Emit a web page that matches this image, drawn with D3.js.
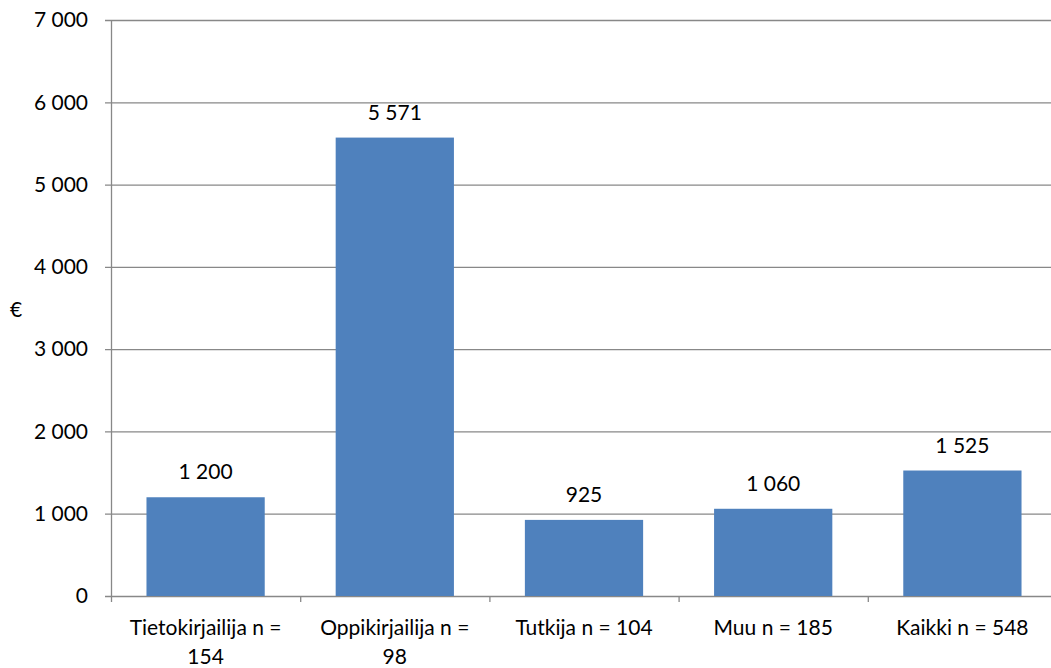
<!DOCTYPE html>
<html lang="fi">
<head>
  <meta charset="UTF-8">
  <title>Bar chart</title>
  <script src="https://d3js.org/d3.v7.min.js"></script>
  <style>
    body { margin: 0; background: #fff; }
    text { font-family: Lato, "Open Sans", sans-serif; fill: #000; }
  </style>
</head>
<body>
  <svg id="chart" width="1051" height="668"></svg>
  <script>
    const categories = ['Tietokirjailija n = 154', 'Oppikirjailija n = 98', 'Tutkija n = 104', 'Muu n = 185', 'Kaikki n = 548'];
    const values = [1200, 5571, 925, 1060, 1525];
    const yTicks = [0, 1000, 2000, 3000, 4000, 5000, 6000, 7000];

    const svg = d3.select('#chart');
    const margin = { left: 111, top: 20, right: -6, bottom: 72 };
    const width = 1051 - margin.left - margin.right;
    const height = 668 - margin.top - margin.bottom;

    const fmt = v => d3.format(',')(v).replace(/,/g, ' ');

    const x = d3.scaleBand().domain(categories).range([0, width]).paddingInner(0.375).paddingOuter(0.1875);
    const xTicks = d3.scaleBand().domain(categories).range([0, width]);
    const y = d3.scaleLinear().domain([0, 7000]).range([height, 0]);

    const g = svg.append('g').attr('transform', `translate(${margin.left},${margin.top})`);

    // grid
    g.selectAll('line.grid').data(yTicks).enter().append('line')
      .attr('class', 'grid')
      .attr('x1', -6).attr('x2', width)
      .attr('y1', d => y(d) + 0.5).attr('y2', d => y(d) + 0.5)
      .attr('stroke', '#888').attr('stroke-width', 1.3);

    // y labels
    g.selectAll('text.ylab').data(yTicks).enter().append('text')
      .attr('class', 'ylab')
      .attr('x', -23).attr('y', d => y(d)).attr('dy', '0.35em')
      .attr('text-anchor', 'end').style('font-size', '21px')
      .text(fmt);

    // bars
    g.selectAll('rect.bar').data(values).enter().append('rect')
      .attr('class', 'bar')
      .attr('x', (d, i) => x(categories[i]))
      .attr('width', x.bandwidth())
      .attr('y', d => y(d))
      .attr('height', d => height - y(d))
      .attr('fill', '#4F81BD');

    // value labels
    g.selectAll('text.val').data(values).enter().append('text')
      .attr('class', 'val')
      .attr('x', (d, i) => x(categories[i]) + x.bandwidth() / 2)
      .attr('y', d => y(d) - 18)
      .attr('text-anchor', 'middle').style('font-size', '21px')
      .text(fmt);

    // axes lines
    g.append('line').attr('x1', 0.5).attr('x2', 0.5).attr('y1', 0).attr('y2', height + 6)
      .attr('stroke', '#888').attr('stroke-width', 1.3);
    g.selectAll('line.xtick').data(categories).enter().append('line')
      .attr('class', 'xtick')
      .attr('x1', d => xTicks(d) + xTicks.bandwidth() + 0.5)
      .attr('x2', d => xTicks(d) + xTicks.bandwidth() + 0.5)
      .attr('y1', height).attr('y2', height + 6)
      .attr('stroke', '#888').attr('stroke-width', 1.3);

    // category labels with wrapping
    const maxW = 165;
    g.selectAll('text.cat').data(categories).enter().append('text')
      .attr('class', 'cat')
      .attr('text-anchor', 'middle').style('font-size', '21px')
      .attr('transform', d => `translate(${x(d) + x.bandwidth() / 2},${height + 39})`)
      .each(function(d) {
        const t = d3.select(this);
        const words = d.split(' ');
        let line = [];
        let lineNo = 0;
        let tspan = t.append('tspan').attr('x', 0).attr('y', 0);
        words.forEach(w => {
          line.push(w);
          tspan.text(line.join(' '));
          if (tspan.node().getComputedTextLength() > maxW && line.length > 1) {
            line.pop();
            tspan.text(line.join(' '));
            line = [w];
            lineNo++;
            tspan = t.append('tspan').attr('x', 0).attr('y', lineNo * 29).text(w);
          }
        });
      });

    // y axis title
    svg.append('text').attr('x', 16).attr('y', 310).attr('dy', '0.35em')
      .attr('text-anchor', 'middle').style('font-size', '21px').text('€');
  </script>
</body>
</html>
